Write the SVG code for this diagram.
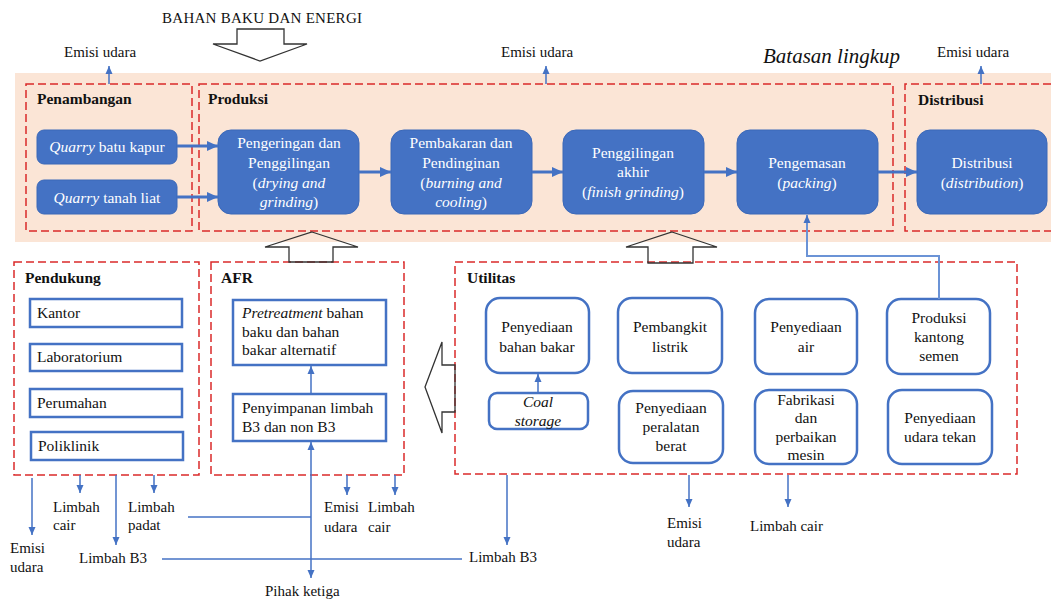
<svg xmlns="http://www.w3.org/2000/svg" width="1051" height="601" viewBox="0 0 1051 601">
<style>
text{font-family:'Liberation Serif','Times New Roman',Tinos,'Noto Serif','DejaVu Serif',serif;font-size:15px;fill:#111}
.t{font-size:15.5px}
.b{font-weight:bold}
.i{font-style:italic}
.w{fill:#fff}
.c{text-anchor:middle}
.dash{fill:none;stroke:#DA2A2A;stroke-width:1.5;stroke-dasharray:8 4}
.sb{fill:#4472C4;stroke:#3B68B8;stroke-width:1}
.ob{fill:#fff;stroke:#4472C4;stroke-width:2.5}
.blk{fill:none;stroke:#333;stroke-width:1.3}
.main{fill:none;stroke:#4472C4;stroke-width:3;marker-end:url(#big)}
.thin{fill:none;stroke:#4472C4;stroke-width:1.5}
.ar{marker-end:url(#sm)}
</style>
<defs>
<marker id="big" markerUnits="userSpaceOnUse" markerWidth="12" markerHeight="12" refX="11" refY="6" orient="auto"><path d="M0,1 L11,6 L0,11 z" fill="#4472C4"/></marker>
<marker id="sm" markerUnits="userSpaceOnUse" markerWidth="9" markerHeight="9" refX="8" refY="4.5" orient="auto"><path d="M0,1 L8,4.5 L0,8 z" fill="#4472C4"/></marker>
</defs>
<rect x="15" y="73" width="1036" height="169" fill="#FBE5D6"/>
<g id="title">
<text x="162" y="23" textLength="200">BAHAN BAKU DAN ENERGI</text>
<polygon class="blk" points="237,29 284,29 284,44 307,44 260,61 213,44 237,44"/>
<text x="763" y="63" class="i" style="font-size:21px">Batasan lingkup</text>
</g>
<g id="penambangan">
<rect class="dash" x="26" y="84" width="166" height="147"/>
<text x="37" y="104" class="b t">Penambangan</text>
</g>
<g id="produksi">
<rect class="dash" x="199" y="84" width="694" height="147"/>
<text x="208" y="104" class="b t">Produksi</text>
</g>
<g id="distribusi-area">
<path class="dash" d="M1051,84 L905,84 L905,231 L1051,231"/>
<text x="918" y="105" class="b t">Distribusi</text>
</g>
<g id="quarry-kapur">
<rect class="sb" x="37" y="130" width="140" height="34" rx="7"/>
<text x="107" y="152" class="c w t"><tspan class="i">Quarry</tspan> batu kapur</text>
</g>
<g id="quarry-liat">
<rect class="sb" x="37" y="180" width="140" height="34" rx="7"/>
<text x="107" y="203" class="c w t"><tspan class="i">Quarry</tspan> tanah liat</text>
</g>
<g id="pengeringan">
<rect class="sb" x="218" y="130" width="141" height="84" rx="13"/>
<text class="c w t"><tspan x="289" y="148">Pengeringan dan</tspan><tspan x="289" y="168">Penggilingan</tspan><tspan x="289" y="188">(<tspan class="i">drying and</tspan></tspan><tspan x="289" y="207"><tspan class="i">grinding</tspan>)</tspan></text>
</g>
<g id="pembakaran">
<rect class="sb" x="391" y="130" width="141" height="84" rx="13"/>
<text class="c w t"><tspan x="461" y="148">Pembakaran dan</tspan><tspan x="461" y="168">Pendinginan</tspan><tspan x="461" y="188">(<tspan class="i">burning and</tspan></tspan><tspan x="461" y="207"><tspan class="i">cooling</tspan>)</tspan></text>
</g>
<g id="penggilingan-akhir">
<rect class="sb" x="563" y="130" width="141" height="84" rx="13"/>
<text class="c w t"><tspan x="633" y="158">Penggilingan</tspan><tspan x="633" y="177">akhir</tspan><tspan x="633" y="197">(<tspan class="i">finish grinding</tspan>)</tspan></text>
</g>
<g id="pengemasan">
<rect class="sb" x="737" y="130" width="141" height="84" rx="13"/>
<text class="c w t"><tspan x="807" y="168">Pengemasan</tspan><tspan x="807" y="188">(<tspan class="i">packing</tspan>)</tspan></text>
</g>
<g id="distribusi">
<rect class="sb" x="917" y="130" width="130" height="84" rx="13"/>
<text class="c w t"><tspan x="982" y="168">Distribusi</tspan><tspan x="982" y="188">(<tspan class="i">distribution</tspan>)</tspan></text>
</g>
<g id="emisi-top">
<text x="64" y="57">Emisi udara</text>
<text x="501" y="57">Emisi udara</text>
<text x="937" y="57">Emisi udara</text>
</g>
<g id="pendukung">
<rect class="dash" x="14" y="262" width="185" height="213"/>
<text x="25" y="283" class="b t">Pendukung</text>
<rect class="ob" x="30" y="299" width="152" height="28"/>
<text x="37" y="318" class="t">Kantor</text>
<rect class="ob" x="30" y="344" width="152" height="27"/>
<text x="37" y="362" class="t">Laboratorium</text>
<rect class="ob" x="30" y="389" width="152" height="28"/>
<text x="37" y="408" class="t">Perumahan</text>
<rect class="ob" x="31" y="432" width="152" height="28"/>
<text x="38" y="451" class="t">Poliklinik</text>
</g>
<g id="afr">
<rect class="dash" x="211" y="262" width="193" height="213"/>
<text x="221" y="283" class="b t">AFR</text>
<polygon class="blk" points="312,232 358,247 333,247 333,262 289,262 289,247 265,247"/>
</g>
<g id="pretreatment">
<rect class="ob" x="233" y="300" width="153" height="65"/>
<text class="t"><tspan x="242" y="318"><tspan class="i">Pretreatment</tspan> bahan</tspan><tspan x="242" y="337">baku dan bahan</tspan><tspan x="242" y="355">bakar alternatif</tspan></text>
</g>
<g id="penyimpanan">
<rect class="ob" x="233" y="394" width="153" height="47"/>
<text class="t"><tspan x="242" y="413">Penyimpanan limbah</tspan><tspan x="242" y="432">B3 dan non B3</tspan></text>
</g>
<g id="utilitas">
<rect class="dash" x="455" y="262" width="562" height="212"/>
<text x="467" y="283" class="b t">Utilitas</text>
<polygon class="blk" points="672,232 717,247 693,247 693,263 648,263 648,247 626,247"/>
<polygon class="blk" points="455,365 442,365 442,342 425,387 442,433 442,412 455,412"/>
</g>
<g id="bahan-bakar">
<rect class="ob" x="486" y="298" width="103" height="75" rx="14"/>
<text class="c t"><tspan x="537" y="332">Penyediaan</tspan><tspan x="537" y="352">bahan bakar</tspan></text>
</g>
<g id="coal-storage">
<rect class="ob" x="489" y="393" width="99" height="36" rx="8"/>
<text class="c t i"><tspan x="538" y="407">Coal</tspan><tspan x="538" y="426">storage</tspan></text>
</g>
<g id="pembangkit">
<rect class="ob" x="618" y="298" width="104" height="75" rx="14"/>
<text class="c t"><tspan x="670" y="332">Pembangkit</tspan><tspan x="670" y="352">listrik</tspan></text>
</g>
<g id="alat-berat">
<rect class="ob" x="619" y="391" width="104" height="72" rx="14"/>
<text class="c t"><tspan x="671" y="413">Penyediaan</tspan><tspan x="671" y="432">peralatan</tspan><tspan x="671" y="451">berat</tspan></text>
</g>
<g id="air">
<rect class="ob" x="755" y="299" width="102" height="75" rx="14"/>
<text class="c t"><tspan x="806" y="332">Penyediaan</tspan><tspan x="806" y="352">air</tspan></text>
</g>
<g id="fabrikasi">
<rect class="ob" x="755" y="390" width="102" height="74" rx="14"/>
<text class="c t"><tspan x="806" y="405">Fabrikasi</tspan><tspan x="806" y="423">dan</tspan><tspan x="806" y="442">perbaikan</tspan><tspan x="806" y="460">mesin</tspan></text>
</g>
<g id="kantong">
<rect class="ob" x="887" y="299" width="103" height="75" rx="14"/>
<text class="c t"><tspan x="939" y="323">Produksi</tspan><tspan x="939" y="342">kantong</tspan><tspan x="939" y="361">semen</tspan></text>
</g>
<g id="udara-tekan">
<rect class="ob" x="888" y="390" width="104" height="74" rx="14"/>
<text class="c t"><tspan x="940" y="423">Penyediaan</tspan><tspan x="940" y="442">udara tekan</tspan></text>
</g>
<g id="outputs">
<text x="10" y="553">Emisi</text><text x="10" y="572">udara</text>
<text x="53" y="512">Limbah</text><text x="53" y="530">cair</text>
<text x="128" y="512">Limbah</text><text x="128" y="530">padat</text>
<text x="79" y="563">Limbah B3</text>
<text x="324" y="512">Emisi</text><text x="324" y="532">udara</text>
<text x="368" y="512">Limbah</text><text x="368" y="532">cair</text>
<text x="469" y="562">Limbah B3</text>
<text x="265" y="596">Pihak ketiga</text>
<text x="667" y="528">Emisi</text><text x="667" y="547">udara</text>
<text x="750" y="531">Limbah cair</text>
</g>
<g id="connectors">
<path class="main" d="M177,146 L218,146"/>
<path class="main" d="M177,197 L218,197"/>
<path class="main" d="M359,172 L391,172"/>
<path class="main" d="M532,172 L563,172"/>
<path class="main" d="M704,172 L737,172"/>
<path class="main" d="M878,172 L917,172"/>
<path class="thin ar" d="M109,84 L109,66"/>
<path class="thin ar" d="M546,84 L546,66"/>
<path class="thin ar" d="M981,84 L981,66"/>
<path class="ar" style="fill:none;stroke:#6B93D6;stroke-width:2" d="M939,299 L939,256 L807,256 L807,215"/>
<path class="thin ar" d="M311,394 L311,366"/>
<path class="thin ar" d="M538,393 L538,374"/>
<path class="thin ar" d="M311,559 L311,442"/>
<path class="thin ar" d="M311,559 L311,578"/>
<path class="thin" d="M188,517 L311,517"/>
<path class="thin" d="M162,559 L462,559"/>
<path class="thin ar" d="M32,478 L32,535"/>
<path class="thin ar" d="M80,475 L80,493"/>
<path class="thin ar" d="M116,475 L116,545"/>
<path class="thin ar" d="M154,475 L154,493"/>
<path class="thin ar" d="M347,475 L347,495"/>
<path class="thin ar" d="M395,475 L395,495"/>
<path class="thin ar" d="M507,475 L507,545"/>
<path class="thin ar" d="M689,475 L689,507"/>
<path class="thin ar" d="M788,475 L788,507"/>
</g>
</svg>
